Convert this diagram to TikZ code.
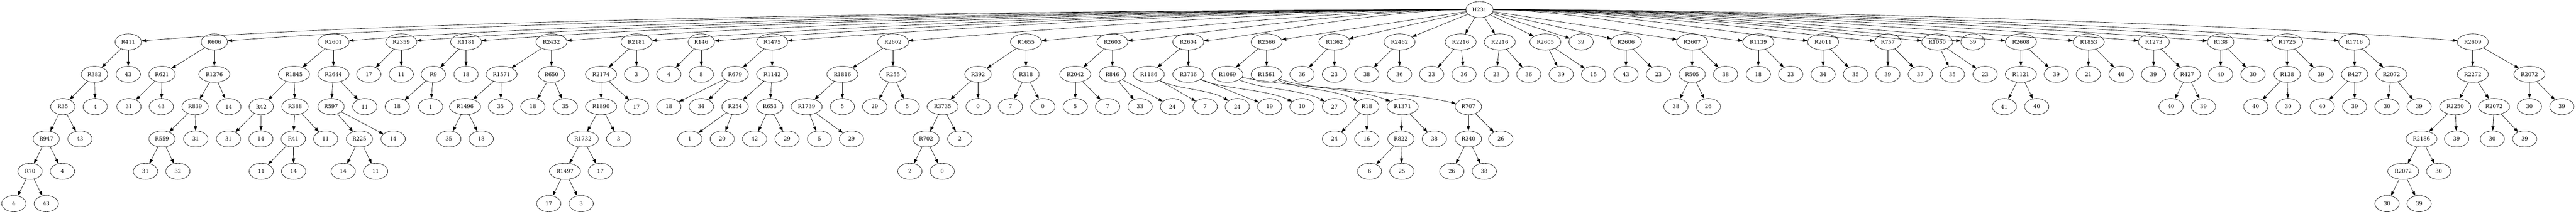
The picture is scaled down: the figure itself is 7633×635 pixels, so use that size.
\documentclass[tikz,border=0pt]{standalone}
\usepackage{fontspec}
\newfontfamily\dvs{DejaVu Serif}
\usetikzlibrary{shapes.geometric,arrows.meta,calc}
\tikzset{
 nd/.style={draw, ellipse, line width=0.75pt, minimum width=54pt, minimum height=36pt, inner xsep=5.3pt, inner ysep=2pt, font=\dvs\fontsize{11.6pt}{13pt}\selectfont},
 conn/.style={line width=0.75pt, -{Triangle[length=10pt,width=7pt]}}
}
\def\yA{124.4}\def\yB{220.4}\def\yC{316.4}\def\yD{412.4}\def\yE{508.4}\def\yF{604.4}
\newcommand{\tkid}[5]{\node[nd] (#2) at (#3,#4) {#5}; \draw[conn] (#1) -- (#2);}
\newcommand{\rootcurve}[2]{%
 \pgfmathsetmacro{\rcdx}{#2-4384}%
 \pgfmathsetmacro{\rcax}{4384+0.35*\rcdx}%
 \pgfmathsetmacro{\rcbx}{#2-0.2*\rcdx}%
 \pgfmathsetmacro{\rcby}{124.4-0.016*abs(\rcdx)}%
 \draw[conn] (H) .. controls (\rcax,30) and (\rcbx,\rcby) .. (#1);}
\newcommand{\midcurve}[4]{%
 \pgfmathsetmacro{\mcdx}{#4-#3}%
 \pgfmathsetmacro{\mcax}{#3+0.3*\mcdx}%
 \pgfmathsetmacro{\mcbx}{#4-0.3*\mcdx}%
 \draw[conn] (#1) .. controls (\mcax,265) and (\mcbx,265) .. (#2);}
\begin{document}
\begin{tikzpicture}[x=0.75pt,y=-0.75pt]
\useasboundingbox (0,0) rectangle (7633,635);
\node[nd] (H) at (4384,28.4) {H231};
% level 1
\node[nd] (a01) at (380,\yA) {R411};
\node[nd] (a02) at (635,\yA) {R606};
\node[nd] (a03) at (988,\yA) {R2601};
\node[nd] (a04) at (1189,\yA) {R2359};
\node[nd] (a05) at (1381,\yA) {R1181};
\node[nd] (a06) at (1634,\yA) {R2432};
\node[nd] (a07) at (1886,\yA) {R2181};
\node[nd] (a08) at (2078,\yA) {R146};
\node[nd] (a09) at (2288,\yA) {R1475};
\node[nd] (a10) at (2646,\yA) {R2602};
\node[nd] (a11) at (3040,\yA) {R1655};
\node[nd] (a12) at (3296,\yA) {R2603};
\node[nd] (a13) at (3521,\yA) {R2604};
\node[nd] (a14) at (3753,\yA) {R2566};
\node[nd] (a15) at (3954,\yA) {R1362};
\node[nd] (a16) at (4147,\yA) {R2462};
\node[nd] (a17) at (4328,\yA) {R2216};
\node[nd] (a18) at (4444,\yA) {R2216};
\node[nd] (a19) at (4579,\yA) {R2605};
\node[nd] (a20) at (4685,\yA) {39};
\node[nd] (a21) at (4818,\yA) {R2606};
\node[nd] (a22) at (5014,\yA) {R2607};
\node[nd] (a23) at (5210,\yA) {R1139};
\node[nd] (a24) at (5402,\yA) {R2011};
\node[nd] (a25) at (5594,\yA) {R757};
\node[nd] (a26) at (5740,\yA) {R1050};
\node[nd] (a27) at (5846,\yA) {39};
\node[nd] (a28) at (5988,\yA) {R2608};
\node[nd] (a29) at (6189,\yA) {R1853};
\node[nd] (a30) at (6382,\yA) {R1273};
\node[nd] (a31) at (6580,\yA) {R138};
\node[nd] (a32) at (6777,\yA) {R1725};
\node[nd] (a33) at (6976,\yA) {R1716};
\node[nd] (a34) at (7327,\yA) {R2609};
% root edges
\rootcurve{a01}{380}
\rootcurve{a02}{635}
\rootcurve{a03}{988}
\rootcurve{a04}{1189}
\rootcurve{a05}{1381}
\rootcurve{a06}{1634}
\rootcurve{a07}{1886}
\rootcurve{a08}{2078}
\rootcurve{a09}{2288}
\rootcurve{a10}{2646}
\rootcurve{a11}{3040}
\rootcurve{a12}{3296}
\rootcurve{a13}{3521}
\draw[conn] (H) -- (a14);
\draw[conn] (H) -- (a15);
\draw[conn] (H) -- (a16);
\draw[conn] (H) -- (a17);
\draw[conn] (H) -- (a18);
\draw[conn] (H) -- (a19);
\draw[conn] (H) -- (a20);
\draw[conn] (H) -- (a21);
\draw[conn] (H) -- (a22);
\rootcurve{a23}{5210}
\rootcurve{a24}{5402}
\rootcurve{a25}{5594}
\rootcurve{a26}{5740}
\rootcurve{a27}{5846}
\rootcurve{a28}{5988}
\rootcurve{a29}{6189}
\rootcurve{a30}{6382}
\rootcurve{a31}{6580}
\rootcurve{a32}{6777}
\rootcurve{a33}{6976}
\rootcurve{a34}{7327}
% R411
\tkid{a01}{b01}{280}{\yB}{R382}
\tkid{a01}{b02}{380}{\yB}{43}
\tkid{b01}{c01}{186}{\yC}{R35}
\tkid{b01}{c02}{282}{\yC}{4}
\tkid{c01}{d01}{137}{\yD}{R947}
\tkid{c01}{d02}{237}{\yD}{43}
\tkid{d01}{e01}{89}{\yE}{R70}
\tkid{d01}{e02}{185}{\yE}{4}
\tkid{e01}{f01}{41}{\yF}{4}
\tkid{e01}{f02}{137}{\yF}{43}
% R606
\tkid{a02}{b03}{480}{\yB}{R621}
\tkid{b03}{c03}{382}{\yC}{31}
\tkid{b03}{c04}{478}{\yC}{43}
\tkid{a02}{b04}{635}{\yB}{R1276}
\tkid{b04}{c05}{578}{\yC}{R839}
\tkid{b04}{c06}{678}{\yC}{14}
\tkid{c05}{d03}{480}{\yD}{R559}
\tkid{c05}{d04}{580}{\yD}{31}
\tkid{d03}{e03}{431}{\yE}{31}
\tkid{d03}{e04}{527}{\yE}{32}
% R2601
\tkid{a03}{b05}{871}{\yB}{R1845}
\tkid{b05}{c07}{774}{\yC}{R42}
\tkid{c07}{d05}{677}{\yD}{31}
\tkid{c07}{d06}{773}{\yD}{14}
\tkid{b05}{c08}{874}{\yC}{R388}
\tkid{c08}{d07}{869}{\yD}{R41}
\tkid{d07}{e05}{774}{\yE}{11}
\tkid{d07}{e06}{870}{\yE}{14}
\tkid{c08}{d08}{965}{\yD}{11}
\tkid{a03}{b06}{988}{\yB}{R2644}
\tkid{b06}{c09}{981}{\yC}{R597}
\tkid{c09}{d09}{1065}{\yD}{R225}
\tkid{d09}{e07}{1017}{\yE}{14}
\tkid{d09}{e08}{1113}{\yE}{11}
\tkid{c09}{d10}{1165}{\yD}{14}
\tkid{b06}{c10}{1081}{\yC}{11}
% R2359
\tkid{a04}{b07}{1093}{\yB}{17}
\tkid{a04}{b08}{1189}{\yB}{11}
% R1181
\tkid{a05}{b09}{1284}{\yB}{R9}
\tkid{b09}{c11}{1177}{\yC}{18}
\tkid{b09}{c12}{1276}{\yC}{1}
\tkid{a05}{b10}{1381}{\yB}{18}
% R2432
\tkid{a06}{b11}{1486}{\yB}{R1571}
\tkid{b11}{c13}{1378}{\yC}{R1496}
\tkid{c13}{d11}{1330}{\yD}{35}
\tkid{c13}{d12}{1426}{\yD}{18}
\tkid{b11}{c14}{1483}{\yC}{35}
\tkid{a06}{b12}{1634}{\yB}{R650}
\tkid{b12}{c15}{1579}{\yC}{18}
\tkid{b12}{c16}{1675}{\yC}{35}
% R2181
\tkid{a07}{b13}{1781}{\yB}{R2174}
\tkid{b13}{c17}{1781}{\yC}{R1890}
\tkid{c17}{d13}{1727}{\yD}{R1732}
\tkid{d13}{e09}{1674}{\yE}{R1497}
\tkid{e09}{f03}{1626}{\yF}{17}
\tkid{e09}{f04}{1722}{\yF}{3}
\tkid{d13}{e10}{1779}{\yE}{17}
\tkid{c17}{d14}{1833}{\yD}{3}
\tkid{b13}{c18}{1886}{\yC}{17}
\tkid{a07}{b14}{1886}{\yB}{3}
% R146
\tkid{a08}{b15}{1982}{\yB}{4}
\tkid{a08}{b16}{2078}{\yB}{8}
% R1475
\tkid{a09}{b17}{2178}{\yB}{R679}
\tkid{b17}{c19}{1982}{\yC}{18}
\tkid{b17}{c20}{2078}{\yC}{34}
\tkid{a09}{b18}{2288}{\yB}{R1142}
\tkid{b18}{c21}{2178}{\yC}{R254}
\tkid{c21}{d15}{2044}{\yD}{1}
\tkid{c21}{d16}{2140}{\yD}{20}
\tkid{b18}{c22}{2281}{\yC}{R653}
\tkid{c22}{d17}{2236}{\yD}{42}
\tkid{c22}{d18}{2332}{\yD}{29}
% R2602
\tkid{a10}{b19}{2496}{\yB}{R1816}
\tkid{b19}{c23}{2390}{\yC}{R1739}
\tkid{c23}{d19}{2428}{\yD}{5}
\tkid{c23}{d20}{2523}{\yD}{29}
\tkid{b19}{c24}{2496}{\yC}{5}
\tkid{a10}{b20}{2646}{\yB}{R255}
\tkid{b20}{c25}{2592}{\yC}{29}
\tkid{b20}{c26}{2688}{\yC}{5}
% R1655
\tkid{a11}{b21}{2898}{\yB}{R392}
\tkid{b21}{c27}{2793}{\yC}{R3735}
\tkid{c27}{d21}{2744}{\yD}{R702}
\tkid{d21}{e11}{2696}{\yE}{2}
\tkid{d21}{e12}{2792}{\yE}{0}
\tkid{c27}{d22}{2844}{\yD}{2}
\tkid{b21}{c28}{2898}{\yC}{0}
\tkid{a11}{b22}{3040}{\yB}{R318}
\tkid{b22}{c29}{2994}{\yC}{7}
\tkid{b22}{c30}{3090}{\yC}{0}
% R2603
\tkid{a12}{b23}{3186}{\yB}{R2042}
\tkid{b23}{c31}{3186}{\yC}{5}
\tkid{b23}{c32}{3282}{\yC}{7}
\tkid{a12}{b24}{3296}{\yB}{R846}
\tkid{b24}{c33}{3378}{\yC}{33}
\tkid{b24}{c34}{3474}{\yC}{24}
% R2604
\tkid{a13}{b25}{3404}{\yB}{R1186}
\tkid{b25}{c35}{3571}{\yC}{7}
\node[nd] (c36) at (3666,\yC) {24};
\midcurve{b25}{c36}{3404}{3666}
\tkid{a13}{b26}{3521}{\yB}{R3736}
\tkid{b26}{c37}{3762}{\yC}{19}
\node[nd] (c38) at (3858,\yC) {10};
\midcurve{b26}{c38}{3521}{3858}
% R2566
\tkid{a14}{b27}{3637}{\yB}{R1069}
\tkid{a14}{b28}{3753}{\yB}{R1561}
\node[nd] (c39) at (3954,\yC) {27};
\node[nd] (c40) at (4050,\yC) {R18};
\node[nd] (c41) at (4156,\yC) {R1371};
\node[nd] (c42) at (4351,\yC) {R707};
\midcurve{b27}{c39}{3637}{3954}
\midcurve{b27}{c42}{3637}{4351}
\midcurve{b28}{c40}{3753}{4050}
\midcurve{b28}{c41}{3753}{4156}
\tkid{c40}{d23}{3954}{\yD}{24}
\tkid{c40}{d24}{4050}{\yD}{16}
\tkid{c41}{d25}{4151}{\yD}{R822}
\tkid{d25}{e13}{4058}{\yE}{6}
\tkid{d25}{e14}{4154}{\yE}{25}
\tkid{c41}{d26}{4250}{\yD}{38}
\tkid{c42}{d27}{4351}{\yD}{R340}
\tkid{d27}{e15}{4302}{\yE}{26}
\tkid{d27}{e16}{4398}{\yE}{38}
\tkid{c42}{d28}{4447}{\yD}{26}
% R1362, R2462, R2216, R2216
\tkid{a15}{b29}{3858}{\yB}{36}
\tkid{a15}{b30}{3954}{\yB}{23}
\tkid{a16}{b31}{4050}{\yB}{38}
\tkid{a16}{b32}{4147}{\yB}{36}
\tkid{a17}{b33}{4242}{\yB}{23}
\tkid{a17}{b34}{4338}{\yB}{36}
\tkid{a18}{b35}{4434}{\yB}{23}
\tkid{a18}{b36}{4530}{\yB}{36}
% R2605
\tkid{a19}{b37}{4626}{\yB}{39}
\tkid{a19}{b38}{4722}{\yB}{15}
% R2606
\tkid{a21}{b39}{4818}{\yB}{43}
\tkid{a21}{b40}{4914}{\yB}{23}
% R2607
\tkid{a22}{b41}{5014}{\yB}{R505}
\tkid{b41}{c43}{4966}{\yC}{38}
\tkid{b41}{c44}{5062}{\yC}{26}
\tkid{a22}{b42}{5113}{\yB}{38}
% R1139, R2011, R757, R1050
\tkid{a23}{b43}{5210}{\yB}{18}
\tkid{a23}{b44}{5306}{\yB}{23}
\tkid{a24}{b45}{5402}{\yB}{34}
\tkid{a24}{b46}{5498}{\yB}{35}
\tkid{a25}{b47}{5594}{\yB}{39}
\tkid{a25}{b48}{5690}{\yB}{37}
\tkid{a26}{b49}{5785}{\yB}{35}
\tkid{a26}{b50}{5882}{\yB}{23}
% R2608
\tkid{a28}{b51}{5988}{\yB}{R1121}
\tkid{b51}{c45}{5939}{\yC}{41}
\tkid{b51}{c46}{6035}{\yC}{40}
\tkid{a28}{b52}{6093}{\yB}{39}
% R1853
\tkid{a29}{b53}{6188}{\yB}{21}
\tkid{a29}{b54}{6285}{\yB}{40}
% R1273
\tkid{a30}{b55}{6381}{\yB}{39}
\tkid{a30}{b56}{6481}{\yB}{R427}
\tkid{b56}{c47}{6433}{\yC}{40}
\tkid{b56}{c48}{6529}{\yC}{39}
% R138
\tkid{a31}{b57}{6580}{\yB}{40}
\tkid{a31}{b58}{6676}{\yB}{30}
% R1725
\tkid{a32}{b59}{6777}{\yB}{R138}
\tkid{b59}{c49}{6684}{\yC}{40}
\tkid{b59}{c50}{6780}{\yC}{30}
\tkid{a32}{b60}{6877}{\yB}{39}
% R1716
\tkid{a33}{b61}{6977}{\yB}{R427}
\tkid{b61}{c51}{6881}{\yC}{40}
\tkid{b61}{c52}{6977}{\yC}{39}
\tkid{a33}{b62}{7086}{\yB}{R2072}
\tkid{b62}{c53}{7073}{\yC}{30}
\tkid{b62}{c54}{7168}{\yC}{39}
% R2609
\tkid{a34}{b63}{7327}{\yB}{R2272}
\tkid{b63}{c55}{7275}{\yC}{R2250}
\tkid{c55}{d29}{7175}{\yD}{R2186}
\tkid{d29}{e17}{7121}{\yE}{R2072}
\tkid{e17}{f05}{7073}{\yF}{30}
\tkid{e17}{f06}{7168}{\yF}{39}
\tkid{d29}{e18}{7226}{\yE}{30}
\tkid{c55}{d30}{7279}{\yD}{39}
\tkid{b63}{c56}{7390}{\yC}{R2072}
\tkid{c56}{d31}{7385}{\yD}{30}
\tkid{c56}{d32}{7481}{\yD}{39}
\tkid{a34}{b64}{7495}{\yB}{R2072}
\tkid{b64}{c57}{7495}{\yC}{30}
\tkid{b64}{c58}{7591}{\yC}{39}
\end{tikzpicture}
\end{document}
